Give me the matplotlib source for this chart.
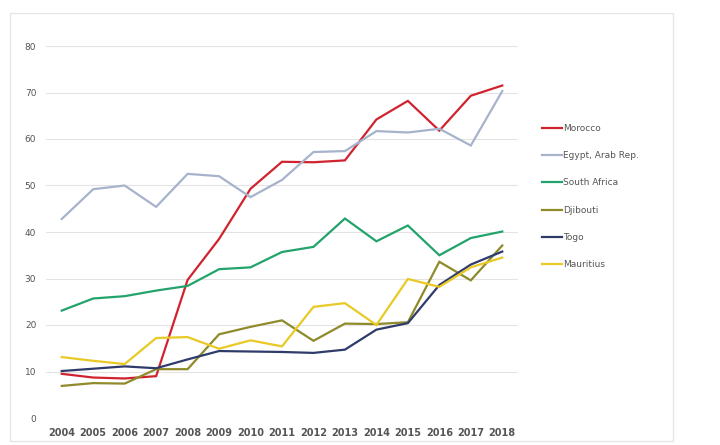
import matplotlib
matplotlib.use("Agg")
import matplotlib.pyplot as plt
from matplotlib.patches import Rectangle

years = list(range(2004, 2019))
morocco = [9.5, 8.7, 8.5, 9.0, 29.7, 38.5, 49.3, 55.1, 55.0, 55.4, 64.2, 68.2, 61.8, 69.3, 71.5]
egypt = [42.8, 49.2, 50.0, 45.4, 52.5, 52.0, 47.5, 51.2, 57.2, 57.4, 61.7, 61.4, 62.2, 58.6, 70.3]
south_africa = [23.1, 25.7, 26.2, 27.4, 28.4, 32.0, 32.4, 35.7, 36.8, 42.9, 38.0, 41.4, 35.0, 38.7, 40.1]
djibouti = [6.9, 7.5, 7.4, 10.5, 10.5, 18.0, 19.6, 21.0, 16.6, 20.3, 20.2, 20.6, 33.6, 29.6, 37.1]
togo = [10.1, 10.6, 11.1, 10.7, 12.6, 14.4, 14.3, 14.2, 14.0, 14.7, 19.0, 20.4, 28.6, 33.0, 35.8]
mauritius = [13.1, 12.3, 11.6, 17.2, 17.4, 14.9, 16.7, 15.4, 23.9, 24.7, 20.0, 29.9, 28.2, 32.4, 34.5]

series = [
    ("Morocco", morocco, "#d1232f"),
    ("Egypt, Arab Rep.", egypt, "#a7b3cc"),
    ("South Africa", south_africa, "#22a36b"),
    ("Djibouti", djibouti, "#8f8a2a"),
    ("Togo", togo, "#2f3b6b"),
    ("Mauritius", mauritius, "#e9c924"),
]
yticks = [0, 10, 20, 30, 40, 50, 60, 70, 80]

W, H = 720, 445
fig = plt.figure(figsize=(W / 100, H / 100), dpi=100)
fig.patch.set_facecolor("white")
fig.patches.append(Rectangle((10 / W, 4 / H), 663 / W, 428 / H, transform=fig.transFigure,
                             fill=False, edgecolor="#e6e6e6", linewidth=1.0))

ax = fig.add_axes([46 / W, 27 / H, 472 / W, 372 / H])
for name, vals, col in series:
    ax.plot(years, vals, color=col, linewidth=1.6, label=name, solid_joinstyle="miter")

ax.set_xlim(2003.5, 2018.5)
ax.set_ylim(0, 80)
ax.set_yticks(yticks)
ax.set_xticks(years)
ax.set_xticklabels([str(y) for y in years], fontsize=7, fontweight="bold", color="#555555")
ax.set_yticklabels([str(v) for v in yticks], fontsize=6.5, color="#555555")
ax.tick_params(axis="both", length=0)
ax.tick_params(axis="y", pad=7)
ax.tick_params(axis="x", pad=7)
ax.grid(axis="y", color="#e3e3e3", linewidth=0.8)
ax.set_axisbelow(True)
for s in ax.spines.values():
    s.set_visible(False)

leg = fig.legend(loc="upper left", bbox_to_anchor=(542 / W, 1 - 124 / H), frameon=False,
                 fontsize=6.5, handlelength=2.2, handletextpad=0.1, labelspacing=2.02,
                 borderpad=0, borderaxespad=0)
for t in leg.get_texts():
    t.set_color("#555555")

fig.savefig("out.png", dpi=100)
